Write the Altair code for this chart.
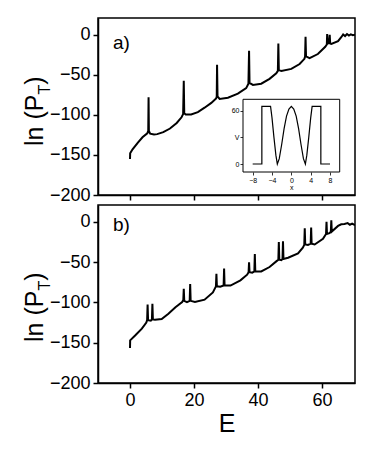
import altair as alt
import pandas as pd

FONT = "Liberation Sans"

# ---- panel a) data (E, ln P_T) ----
E_a = [0, 0.05, 0.8, 2.4, 3.9, 5.4, 5.7, 5.8, 5.9, 6.3, 7.5, 8.5, 10.4, 12.5, 14.6,
       16.1, 16.6, 16.8, 16.95, 17.4, 19.1, 21.2, 23.3, 25.4, 26.9, 27.1, 27.2, 27.35,
       28.0, 30.6, 33.7, 36.3, 37.0, 37.2, 37.35, 38.4, 41.0, 43.6, 45.7, 46.2, 46.35,
       46.5, 47.3, 50.4, 53.0, 54.5, 54.7, 54.85, 55.0, 56.1, 58.7, 61.0, 61.5, 61.6,
       61.75, 62.2, 62.4, 62.55, 62.9, 65.0, 66.0, 66.6, 67.2, 67.8, 68.4, 69.0, 69.6, 70.3]
P_a = [-155, -148, -143, -135, -128, -123, -120, -78, -120, -123.5, -124.5, -124, -121.5,
       -117, -110, -103, -99, -57.5, -98, -99.5, -99.5, -96.5, -91, -85, -79.5, -77, -37.5,
       -77, -80, -78.5, -73.5, -66.5, -61, -20, -60, -62.5, -61, -55, -48, -45, -11, -44,
       -45, -42.5, -36.5, -30, -27, -2.5, -27, -29, -24, -15, -12, 1, -11, -10, 0, -11,
       -11.5, -8, -3, 0.5, -1.5, 1, -1, 0.5, -0.5, 0]

# ---- panel b) data ----
E_b = [0, 0.05, 1.6, 3.7, 5.1, 5.35, 5.5, 5.65, 6.5, 6.85, 7.0, 7.15, 7.8, 9.9, 12.0,
       14.2, 16.3, 16.65, 16.8, 16.95, 17.8, 18.65, 18.8, 18.95, 20.3, 23.3, 25.9, 26.85,
       27.0, 27.15, 28.2, 29.25, 29.4, 29.55, 31.4, 34.5, 36.6, 37.05, 37.2, 37.35, 38.2,
       38.85, 39.0, 39.15, 41.0, 43.6, 45.7, 46.35, 46.5, 46.65, 47.3, 47.65, 47.8, 47.95,
       49.4, 52.5, 54.0, 54.45, 54.6, 54.75, 55.6, 56.45, 56.6, 56.75, 57.7, 60.3, 61.25,
       61.4, 61.55, 62.3, 62.75, 62.9, 63.05, 65.0, 66.0, 67.0, 68.0, 68.7, 69.4, 70.3]
P_b = [-156.5, -147, -141, -132.5, -125, -122, -102.5, -122, -122.5, -121, -101.5, -121,
       -121.5, -120.5, -114, -106, -99.5, -97, -83, -98, -99.5, -98, -77, -98, -99.5,
       -96.5, -87.5, -80, -64.5, -80, -80.5, -79, -58, -79, -79, -72.5, -65.5, -62.5,
       -50, -62.5, -63, -61.5, -40, -61.5, -61.5, -56, -49, -47, -25, -47, -47.5, -46,
       -24, -46, -44.5, -39, -32, -28.5, -8, -28, -28.5, -27, -7, -27, -28, -21, -15,
       0, -15, -14, -12, 2, -12, -5, -3, -2.5, -1.5, -3.5, -2, -4]

# ---- inset potential V(x) ----
x_in = [-8, -6.1, -6.1, -4.3, -4.0, -3.6, -3.2, -2.9, -2.5, -2.0, -1.5, -1.0, -0.5, 0,
        0.5, 1.0, 1.5, 2.0, 2.5, 2.9, 3.2, 3.6, 4.0, 4.3, 6.1, 6.1, 8]
V_in = [0, 0, 65, 65, 52, 30, 10, 0, 6, 22, 40, 54, 62, 65, 62, 54, 40, 22, 6, 0, 10,
        30, 52, 65, 65, 0, 0]
inset_xlim = [-10, 10]
inset_ylim = [-9, 73]

E_dom = [-10, 70.3]
P_dom = [-200, 21]
E_ticks = [0, 20, 40, 60]
P_ticks = [-200, -150, -100, -50, 0]

W, H_A, H_B = 257, 177, 178


def line_df(xs, ys):
    return pd.DataFrame({"E": xs, "v": ys, "i": list(range(len(xs)))})


def text_layer(txt, x, y, size, angle=0, align="left"):
    return alt.Chart(pd.DataFrame({"t": [txt]})).mark_text(
        font=FONT, fontSize=size, angle=angle, align=align, baseline="alphabetic",
        color="black"
    ).encode(text="t:N", x=alt.value(x), y=alt.value(y))


def ylabel(yb):
    xb = -55
    return [
        text_layer("ln (P", xb, yb, 25, angle=270),
        text_layer("T", xb + 7, yb - 51.4, 16, angle=270),
        text_layer(")", xb, yb - 51.4 - 9.8, 25, angle=270),
    ]


def panel(xs, ys, h, show_labels, tag, tag_y, title_yb):
    x = alt.X("E:Q", scale=alt.Scale(domain=E_dom, nice=False, zero=False),
              axis=alt.Axis(values=E_ticks, labels=show_labels,
                            title="E" if show_labels else None))
    y = alt.Y("v:Q", scale=alt.Scale(domain=P_dom, nice=False, zero=False),
              axis=alt.Axis(values=P_ticks, title=None))
    curve = alt.Chart(line_df(xs, ys)).mark_line(
        color="black", strokeWidth=2, clip=True
    ).encode(x=x, y=y, order="i:Q")
    layers = [curve, text_layer(tag, 15, tag_y, 19)] + ylabel(title_yb)
    return alt.layer(*layers).properties(width=W, height=h)


top_main = panel(E_a, P_a, H_A, False, "a)", 31, 128)

# inset
ix = alt.Scale(domain=inset_xlim, range=[145, 241.7], nice=False, zero=False)
iy = alt.Scale(domain=inset_ylim, range=[154, 81.3], nice=False, zero=False)
ax_ix = alt.Axis(values=[-8, -4, 0, 4, 8], title="x", orient="bottom", offset=-23,
                 domain=False, tickSize=3, tickWidth=0.8, tickColor="black",
                 labelFontSize=7, labelColor="black", titleColor="black",
                 titleFontSize=7, titlePadding=0, labelPadding=1)
ax_iy = alt.Axis(values=[0, 30, 60], labelExpr="datum.value == 30 ? 'V' : datum.label",
                 title=None, orient="left", offset=-145, domain=False, tickSize=3,
                 tickWidth=0.8, tickColor="black", labelColor="black",
                 labelFontSize=7, labelPadding=1)
frame = alt.Chart(pd.DataFrame({"x0": [inset_xlim[0]], "x1": [inset_xlim[1]],
                                "y0": [inset_ylim[0]], "y1": [inset_ylim[1]]})).mark_rect(
    fill="white", stroke="black", strokeWidth=1
).encode(x=alt.X("x0:Q", scale=ix, axis=ax_ix), x2="x1:Q",
         y=alt.Y("y0:Q", scale=iy, axis=ax_iy), y2="y1:Q")
vline = alt.Chart(pd.DataFrame({"x0": x_in, "y0": V_in, "i": list(range(len(x_in)))})).mark_line(
    color="black", strokeWidth=1.2
).encode(x=alt.X("x0:Q", scale=ix, axis=ax_ix), y=alt.Y("y0:Q", scale=iy, axis=ax_iy),
         order="i:Q")
inset = alt.layer(frame, vline)

top = alt.layer(top_main, inset).resolve_scale(x="independent", y="independent").properties(
    width=W, height=H_A)

bottom = panel(E_b, P_b, H_B, True, "b)", 26, 137)

chart = alt.vconcat(top, bottom, spacing=10, bounds="flush").properties(
    padding={"left": 14, "top": 9, "right": 5, "bottom": 5}
).configure_view(
    stroke="black", strokeWidth=1.5
).configure_axis(
    grid=False, domainColor="black", domainWidth=1.5, tickColor="black", tickWidth=1.5,
    tickSize=5, labelFont=FONT, labelFontSize=18, labelColor="black", labelPadding=3,
    titleFont=FONT, titleFontSize=25, titleFontWeight="normal", titleColor="black",
    titlePadding=2
)

chart.save("out.html", embed_options={"renderer": "svg", "actions": False})
